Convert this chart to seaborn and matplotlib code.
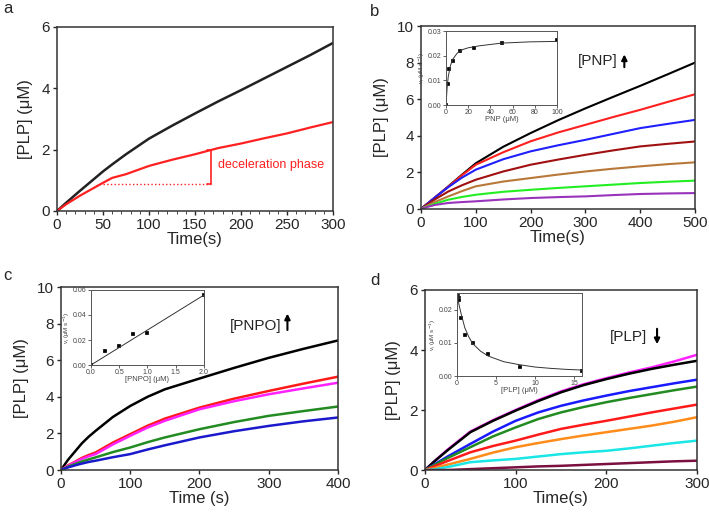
import numpy as np
import matplotlib
matplotlib.use("Agg")
import matplotlib.pyplot as plt
import pandas as pd
import seaborn as sns

# ---- panel a ----
a_time = [0, 10, 25, 50, 60, 75, 100, 125, 150, 175, 200, 225, 250, 275, 300]
a_black = [0, 0.27, 0.66, 1.29, 1.52, 1.85, 2.36, 2.78, 3.18, 3.57, 3.94, 4.32, 4.70, 5.08, 5.48]
a_red = [0, 0.22, 0.50, 0.92, 1.08, 1.20, 1.47, 1.67, 1.85, 2.05, 2.20, 2.37, 2.53, 2.72, 2.90]

# ---- panel b ----
b_time = [0, 10, 25, 50, 75, 100, 150, 200, 250, 300, 350, 400, 450, 500]
b_series = {
    "black": [0, 0.25, 0.62, 1.24, 1.88, 2.50, 3.40, 4.15, 4.85, 5.50, 6.12, 6.73, 7.36, 8.00],
    "#ff2020": [0, 0.25, 0.62, 1.22, 1.85, 2.42, 3.10, 3.70, 4.18, 4.60, 5.02, 5.42, 5.85, 6.27],
    "#2020ff": [0, 0.25, 0.62, 1.20, 1.72, 2.15, 2.72, 3.15, 3.48, 3.78, 4.10, 4.42, 4.65, 4.87],
    "#a01010": [0, 0.22, 0.52, 0.96, 1.30, 1.60, 2.05, 2.42, 2.70, 2.96, 3.20, 3.42, 3.56, 3.69],
    "#b8783a": [0, 0.16, 0.38, 0.69, 0.98, 1.24, 1.50, 1.69, 1.88, 2.05, 2.20, 2.33, 2.45, 2.55],
    "#22ee22": [0, 0.12, 0.28, 0.51, 0.66, 0.78, 0.94, 1.05, 1.15, 1.24, 1.33, 1.42, 1.49, 1.55],
    "#9933bb": [0, 0.10, 0.22, 0.33, 0.38, 0.42, 0.52, 0.60, 0.65, 0.69, 0.76, 0.82, 0.85, 0.87],
}
b_pnp = [0, 1.5, 3, 6, 12.5, 25, 50, 100]
b_vi = [0, 0.0085, 0.0145, 0.018, 0.022, 0.0233, 0.025, 0.0262]
b_fit_x = [0, 1, 2, 4, 6, 10, 15, 20, 30, 50, 75, 100]
b_fit_y = [0, 0.0072, 0.0115, 0.016, 0.0185, 0.021, 0.0225, 0.0232, 0.024, 0.0251, 0.0256, 0.0258]

# ---- panel c ----
c_time = [0, 10, 20, 30, 40, 50, 75, 100, 125, 150, 200, 250, 300, 350, 400]
c_series = {
    "black": [0, 0.55, 1.00, 1.45, 1.82, 2.14, 2.90, 3.50, 4.00, 4.41, 5.00, 5.58, 6.13, 6.62, 7.08],
    "#ff1a1a": [0, 0.25, 0.45, 0.66, 0.82, 0.96, 1.50, 1.96, 2.42, 2.81, 3.41, 3.90, 4.32, 4.72, 5.10],
    "#ff22ff": [0, 0.22, 0.42, 0.60, 0.75, 0.87, 1.40, 1.87, 2.32, 2.69, 3.32, 3.76, 4.14, 4.46, 4.77],
    "#228b22": [0, 0.18, 0.32, 0.46, 0.58, 0.69, 0.98, 1.23, 1.52, 1.78, 2.23, 2.62, 2.96, 3.22, 3.47],
    "#1a1acc": [0, 0.14, 0.25, 0.35, 0.44, 0.51, 0.70, 0.87, 1.12, 1.35, 1.78, 2.12, 2.41, 2.66, 2.87],
}
c_pnpo = [0, 0.25, 0.5, 0.75, 1.0, 2.0]
c_vi = [0, 0.011, 0.015, 0.0245, 0.026, 0.056]
c_fit_x = [0, 2.0]
c_fit_y = [0, 0.056]

# ---- panel d ----
d_time = [0, 10, 25, 50, 75, 100, 125, 150, 175, 200, 225, 250, 275, 300]
d_series = {
    "#ff22ff": [0, 0.28, 0.68, 1.28, 1.66, 2.00, 2.33, 2.62, 2.86, 3.06, 3.25, 3.42, 3.62, 3.84],
    "black": [0, 0.28, 0.66, 1.26, 1.64, 1.98, 2.30, 2.59, 2.83, 3.03, 3.21, 3.37, 3.51, 3.64],
    "#1a1aff": [0, 0.18, 0.45, 0.87, 1.28, 1.64, 1.92, 2.14, 2.32, 2.48, 2.63, 2.76, 2.89, 3.01],
    "#228b22": [0, 0.16, 0.40, 0.76, 1.12, 1.42, 1.70, 1.92, 2.10, 2.26, 2.40, 2.53, 2.66, 2.78],
    "#ff1a1a": [0, 0.12, 0.30, 0.59, 0.80, 0.98, 1.18, 1.37, 1.51, 1.64, 1.78, 1.92, 2.05, 2.18],
    "#ff8c1a": [0, 0.06, 0.18, 0.37, 0.58, 0.76, 0.90, 1.03, 1.15, 1.26, 1.37, 1.48, 1.61, 1.76],
    "#1ae6e6": [0, 0.02, 0.10, 0.26, 0.32, 0.37, 0.45, 0.53, 0.59, 0.64, 0.72, 0.81, 0.90, 0.98],
    "#7a1040": [0, 0.0, 0.0, 0.03, 0.06, 0.09, 0.12, 0.14, 0.17, 0.20, 0.23, 0.26, 0.29, 0.31],
}
d_plp = [0.1, 0.2, 0.25, 0.5, 1, 2, 4, 8, 16]
d_vi = [0.024, 0.0235, 0.023, 0.0175, 0.0125, 0.0098, 0.0065, 0.0028, 0.0015]
d_fit_x = [0, 0.25, 0.5, 1, 1.5, 2, 3, 4, 6, 8, 10, 12, 14, 16]
d_fit_y = [0.025, 0.0215, 0.019, 0.0145, 0.0118, 0.0098, 0.0075, 0.006, 0.0043, 0.0034, 0.0027, 0.0023, 0.002, 0.0018]

sns.set_style("ticks")
plt.rcParams["font.family"] = ["Liberation Sans", "DejaVu Sans"]
plt.rcParams["axes.linewidth"] = 1.1

fig = plt.figure(figsize=(7.09, 5.12), dpi=100)


def style_main(ax, xlim, ylim, xt, yt, xlabel):
    ax.set_xlim(xlim)
    ax.set_ylim(ylim)
    ax.set_xticks(xt)
    ax.set_yticks(yt)
    ax.set_xlabel(xlabel, fontsize=12, labelpad=0)
    ax.set_ylabel("[PLP] (μM)", fontsize=12, labelpad=6)
    ax.tick_params(labelsize=11, length=3, width=1, pad=2)
    for s in ax.spines.values():
        s.set_visible(True)
        s.set_color("#333333")


def style_inset(ax, xlim, ylim, xt, yt, xlabel):
    ax.set_xlim(xlim)
    ax.set_ylim(ylim)
    ax.set_xticks(xt)
    ax.set_yticks(yt)
    ax.set_xlabel(xlabel, fontsize=5.5, labelpad=0, color="#444444")
    ax.set_ylabel("v$_i$ (μM s$^{-1}$)", fontsize=4.5, labelpad=1, color="#444444")
    ax.tick_params(labelsize=5, length=2, width=0.6, pad=1, colors="#444444")
    for s in ax.spines.values():
        s.set_visible(True)
        s.set_color("#555555")
        s.set_linewidth(0.7)


def draw_lines(ax, t, series, lw):
    for col, vals in series.items():
        sns.lineplot(x=t, y=vals, color=col, lw=lw, ax=ax)


# panel a
ax_a = fig.add_axes([0.0804, 0.5879, 0.3893, 0.3594])
sns.lineplot(x=a_time, y=a_black, color="#222222", lw=1.8, ax=ax_a)
sns.lineplot(x=a_time, y=a_red, color="#ff2020", lw=1.6, ax=ax_a)
style_main(ax_a, (0, 300), (0, 6), [0, 50, 100, 150, 200, 250, 300], [0, 2, 4, 6], "Time(s)")
ax_a.set_xticks(np.arange(0, 301, 10), minor=True)
ax_a.tick_params(which="minor", length=2)
ax_a.plot([50, 167], [0.87, 0.87], color="#ff2020", lw=1, ls=":")
ax_a.plot([163, 167, 167, 163], [1.98, 1.98, 0.87, 0.87], color="#ff2020", lw=1.2)
ax_a.text(175, 1.5, "deceleration phase", color="#ff2020", fontsize=9, va="center")

# panel b
ax_b = fig.add_axes([0.5938, 0.5918, 0.3865, 0.3574])
draw_lines(ax_b, b_time, b_series, 1.5)
style_main(ax_b, (0, 500), (0, 10), [0, 100, 200, 300, 400, 500], [0, 2, 4, 6, 8, 10], "Time(s)")
ax_b.text(359, 8.1, "[PNP]", fontsize=11, ha="right", va="center")
ax_b.annotate("", xy=(371, 8.6), xytext=(371, 7.6),
              arrowprops=dict(arrowstyle="-|>", color="black", lw=1.5, mutation_scale=8))
ax_bi = fig.add_axes([0.6291, 0.7949, 0.1566, 0.1445])
sns.lineplot(x=b_fit_x, y=b_fit_y, color="#333333", lw=0.7, ax=ax_bi)
sns.scatterplot(x=b_pnp, y=b_vi, color="black", marker="s", s=6, ax=ax_bi)
style_inset(ax_bi, (0, 100), (0, 0.03), [0, 20, 40, 60, 80, 100], [0, 0.01, 0.02, 0.03], "PNP (μM)")
ax_bi.set_yticklabels(["0.00", "0.01", "0.02", "0.03"])

# panel c
ax_c = fig.add_axes([0.0860, 0.0820, 0.3907, 0.3574])
draw_lines(ax_c, c_time, c_series, 1.8)
style_main(ax_c, (0, 400), (0, 10), [0, 100, 200, 300, 400], [0, 2, 4, 6, 8, 10], "Time (s)")
ax_c.text(318, 7.86, "[PNPO]", fontsize=11, ha="right", va="center")
ax_c.annotate("", xy=(327, 8.7), xytext=(327, 7.5),
              arrowprops=dict(arrowstyle="-|>", color="black", lw=1.5, mutation_scale=8))
ax_ci = fig.add_axes([0.1283, 0.2871, 0.1594, 0.1465])
sns.lineplot(x=c_fit_x, y=c_fit_y, color="#333333", lw=0.7, ax=ax_ci)
sns.scatterplot(x=c_pnpo, y=c_vi, color="black", marker="s", s=5, ax=ax_ci)
style_inset(ax_ci, (0, 2.0), (0, 0.06), [0, 0.5, 1.0, 1.5, 2.0], [0, 0.02, 0.04, 0.06], "[PNPO] (μM)")
ax_ci.set_yticklabels(["0.00", "0.02", "0.04", "0.06"])

# panel d
ax_d = fig.add_axes([0.5994, 0.0820, 0.3836, 0.3516])
draw_lines(ax_d, d_time, d_series, 1.8)
style_main(ax_d, (0, 300), (0, 6), [0, 100, 200, 300], [0, 2, 4, 6], "Time(s)")
ax_d.text(245, 4.44, "[PLP]", fontsize=11, ha="right", va="center")
ax_d.annotate("", xy=(256, 4.1), xytext=(256, 4.8),
              arrowprops=dict(arrowstyle="-|>", color="black", lw=1.5, mutation_scale=8))
ax_di = fig.add_axes([0.6446, 0.2656, 0.1763, 0.1621])
sns.lineplot(x=d_fit_x, y=d_fit_y, color="#333333", lw=0.7, ax=ax_di)
sns.scatterplot(x=d_plp, y=d_vi, color="black", marker="s", s=6, ax=ax_di)
style_inset(ax_di, (0, 16), (0, 0.025), [0, 5, 10, 15], [0, 0.01, 0.02], "[PLP] (μM)")
ax_di.set_yticklabels(["0.00", "0.01", "0.02"])

# panel letters
for lbl, (x, y) in zip("abcd", [(0.004, 0.998), (0.522, 0.992), (0.004, 0.477), (0.522, 0.467)]):
    fig.text(x, y, lbl, fontsize=12, va="top", ha="left")

fig.savefig("out.png", dpi=100)
